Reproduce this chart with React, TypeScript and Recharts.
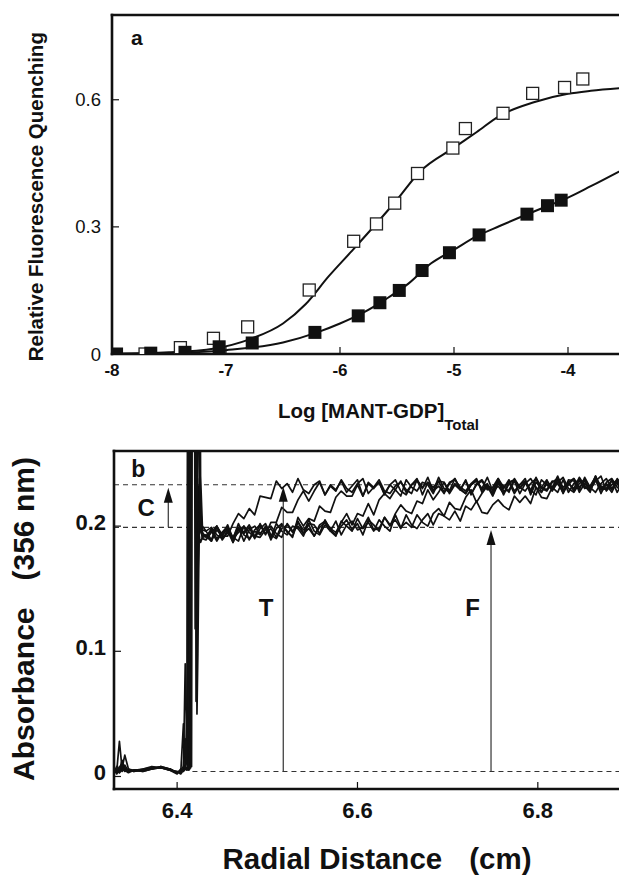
import {
  ComposedChart,
  Line,
  ReferenceDot,
  ReferenceLine,
  Scatter,
  XAxis,
  YAxis,
} from "recharts";

// ---- panel a: MANT-GDP titration ----
const logConcOpen = [-7.71, -7.40, -7.11, -6.81, -6.27, -5.88, -5.68, -5.52, -5.32, -5.01, -4.90, -4.57, -4.31, -4.03, -3.87];
const quenchOpen = [0.0, 0.015, 0.037, 0.064, 0.151, 0.266, 0.307, 0.356, 0.426, 0.486, 0.532, 0.568, 0.615, 0.629, 0.649];

const logConcFilled = [-7.96, -7.66, -7.36, -7.06, -6.77, -6.22, -5.84, -5.65, -5.48, -5.28, -5.04, -4.78, -4.36, -4.18, -4.06];
const quenchFilled = [0.0, 0.002, 0.004, 0.017, 0.026, 0.051, 0.09, 0.121, 0.15, 0.197, 0.239, 0.281, 0.33, 0.35, 0.363];

// fitted binding curves
const fitOpenX = [-8, -7.5, -7.1, -6.8, -6.5, -6.3, -6.1, -5.9, -5.7, -5.5, -5.3, -5.0, -4.8, -4.6, -4.3, -4.0, -3.8, -3.5];
const fitOpenY = [0.001, 0.004, 0.013, 0.034, 0.072, 0.118, 0.183, 0.242, 0.302, 0.364, 0.43, 0.487, 0.524, 0.562, 0.594, 0.614, 0.621, 0.628];
const fitFilledX = [-8, -7.5, -7.0, -6.5, -6.2, -6.0, -5.8, -5.6, -5.4, -5.2, -5.0, -4.8, -4.6, -4.4, -4.2, -4.0, -3.8, -3.5];
const fitFilledY = [0.0, 0.002, 0.009, 0.027, 0.051, 0.072, 0.097, 0.129, 0.166, 0.214, 0.246, 0.278, 0.302, 0.325, 0.347, 0.369, 0.396, 0.438];

const logTicks = [-8, -7, -6, -5, -4];
const quenchTicks = [0, 0.3, 0.6];

// ---- panel b: absorbance scans, values in mAU ----
const meniscusR = [
  6.330, 6.333, 6.336, 6.339, 6.342, 6.346, 6.352, 6.362, 6.372, 6.382,
  6.392, 6.400, 6.404, 6.407, 6.409, 6.411, 6.412, 6.413, 6.414, 6.415,
  6.416, 6.417, 6.418, 6.419, 6.420, 6.421, 6.422, 6.423, 6.424, 6.425,
  6.426, 6.428,
];
const plateauR = [
  6.432, 6.438, 6.444, 6.450, 6.456, 6.462, 6.468, 6.474, 6.480, 6.486,
  6.492, 6.498, 6.504, 6.510, 6.516, 6.522, 6.528, 6.534, 6.540, 6.546,
  6.552, 6.558, 6.564, 6.570, 6.576, 6.582, 6.588, 6.594, 6.600, 6.606,
  6.612, 6.618, 6.624, 6.630, 6.636, 6.642, 6.648, 6.654, 6.660, 6.666,
  6.672, 6.678, 6.684, 6.690, 6.696, 6.702, 6.708, 6.714, 6.720, 6.726,
  6.732, 6.738, 6.744, 6.750, 6.756, 6.762, 6.768, 6.774, 6.780, 6.786,
  6.792, 6.798, 6.804, 6.810, 6.816, 6.822, 6.828, 6.834, 6.840, 6.846,
  6.852, 6.858, 6.864, 6.870, 6.876, 6.882, 6.888, 6.894, 6.900,
];

// first 32 values cover meniscusR, the rest plateauR; 420 runs off scale
const scan1 = [
  5, 3, 8, 4, 6, 5, 4, 5, 6, 8, 6, 3, 4, 6, 9, 12, 420, 420, 420, 420,
  420, 420, 420, 420, 420, 420, 420, 420, 420, 252, 214, 197,
  196, 189, 200, 192, 192, 202, 210, 206, 214, 209,
  224, 223, 222, 236, 230, 234, 227, 238, 229, 226,
  233, 236, 225, 232, 228, 237, 230, 227, 234, 238,
  226, 231, 235, 225, 233, 229, 236, 227, 233, 238,
  225, 235, 231, 236, 227, 234, 238, 229, 226, 233,
  236, 230, 239, 228, 232, 226, 235, 237, 231, 228,
  234, 238, 227, 234, 230, 237, 226, 235, 238, 231,
  236, 228, 239, 232, 229, 236, 234, 227, 237,
];
const scan2 = [
  3, 8, 5, 13, 6, 4, 5, 5, 7, 7, 5, 4, 3, 42, 8, 6, 10, 420, 420, 420,
  420, 420, 420, 420, 420, 60, 110, 180, 232, 206, 196, 192,
  193, 188, 200, 193, 197, 190, 202, 193, 190, 197,
  201, 193, 203, 203, 215, 211, 211, 221, 228, 220,
  228, 235, 225, 233, 229, 236, 227, 232, 237, 224,
  234, 230, 235, 226, 233, 237, 228, 225, 233, 236,
  230, 239, 228, 232, 226, 235, 237, 231, 228, 234,
  238, 227, 233, 229, 236, 225, 234, 237, 230, 235,
  227, 238, 231, 229, 236, 234, 227, 237, 236, 229,
  239, 231, 227, 234, 238, 230, 235, 226, 237,
];
const scan3 = [
  7, 4, 28, 6, 9, 4, 5, 4, 6, 7, 5, 2, 6, 5, 90, 20, 8, 12, 420, 420,
  420, 420, 420, 420, 420, 420, 420, 420, 262, 226, 205, 194,
  192, 196, 188, 195, 198, 191, 188, 200, 195, 191,
  202, 194, 198, 191, 201, 196, 191, 207, 200, 206,
  204, 216, 212, 211, 223, 228, 224, 224, 233, 224,
  235, 231, 237, 228, 226, 232, 235, 229, 226, 237,
  231, 235, 228, 239, 230, 227, 234, 229, 237, 226,
  233, 236, 229, 231, 238, 228, 229, 236, 226, 234,
  238, 231, 227, 236, 231, 240, 229, 233, 238, 227,
  234, 230, 237, 226, 235, 238, 231, 228, 239,
];
const scan4 = [
  4, 6, 3, 7, 17, 6, 5, 5, 6, 8, 6, 3, 5, 4, 6, 5, 7, 6, 9, 420,
  420, 420, 420, 420, 420, 420, 420, 150, 198, 238, 210, 195,
  191, 198, 190, 195, 200, 187, 198, 194, 199, 190,
  198, 202, 193, 190, 198, 201, 195, 204, 194, 198,
  192, 201, 204, 198, 195, 203, 210, 201, 210, 208,
  218, 209, 221, 226, 222, 229, 224, 237, 231, 228,
  235, 233, 226, 236, 235, 228, 238, 230, 226, 233,
  237, 229, 234, 225, 236, 232, 227, 238, 231, 235,
  228, 239, 230, 228, 235, 238, 227, 234, 230, 239,
  232, 229, 236, 240, 228, 233, 237, 227, 235,
];
const scan5 = [
  6, 2, 5, 9, 4, 6, 4, 6, 7, 7, 5, 4, 2, 5, 7, 24, 6, 5, 8, 7,
  420, 420, 420, 420, 420, 420, 420, 420, 420, 420, 240, 200,
  196, 199, 193, 190, 196, 187, 199, 195, 201, 192,
  191, 197, 200, 194, 191, 202, 196, 200, 194, 205,
  196, 193, 201, 196, 204, 193, 201, 204, 197, 199,
  207, 197, 198, 207, 200, 210, 217, 212, 210, 220,
  218, 229, 221, 227, 235, 226, 233, 229, 236, 225,
  234, 237, 230, 227, 238, 231, 235, 226, 233, 236,
  229, 225, 237, 233, 229, 239, 231, 235, 228, 237,
  232, 227, 240, 230, 234, 229, 238, 231, 227,
];
const scan6 = [
  4, 5, 3, 6, 5, 3, 5, 4, 6, 7, 6, 3, 4, 5, 6, 55, 14, 7, 6, 9,
  8, 420, 420, 420, 420, 420, 50, 98, 168, 214, 200, 190,
  189, 195, 200, 189, 195, 191, 199, 188, 197, 200,
  194, 199, 191, 202, 196, 193, 200, 198, 192, 202,
  201, 194, 205, 197, 193, 200, 205, 197, 202, 193,
  205, 201, 196, 207, 201, 205, 198, 209, 201, 198,
  205, 210, 201, 210, 208, 219, 214, 213, 223, 229,
  219, 226, 232, 224, 234, 230, 237, 228, 233, 238,
  225, 235, 231, 237, 228, 235, 239, 230, 227, 234,
  237, 231, 240, 229, 233, 227, 236, 238, 232,
];
const scan7 = [
  5, 4, 6, 5, 7, 4, 5, 6, 8, 7, 6, 3, 5, 8, 30, 9, 420, 420, 420, 420,
  420, 420, 420, 420, 118, 196, 240, 206, 195, 190, 187, 191,
  192, 188, 197, 192, 201, 190, 195, 200, 189, 196,
  193, 200, 189, 198, 202, 195, 192, 203, 197, 201,
  192, 199, 203, 196, 192, 204, 200, 196, 206, 198,
  203, 196, 205, 200, 196, 209, 199, 203, 199, 209,
  203, 200, 210, 214, 208, 205, 212, 204, 216, 213,
  220, 211, 210, 217, 221, 216, 213, 224, 219, 224,
  218, 231, 223, 222, 231, 227, 237, 227, 234, 237,
  230, 232, 239, 229, 230, 237, 227, 235, 239,
];

const radialTicks = [6.4, 6.6, 6.8];
const absTicks = [0, 0.1, 0.2];
// boundary levels (AU): baseline, free and total plateau
const baseLevel = 0.004;
const freeLevel = 0.199;
const totalLevel = 0.233;

const ink = "#111";
const font = '"Liberation Sans", Arial, Helvetica, sans-serif';

const openPts = logConcOpen.map((x, i) => ({ x, y: quenchOpen[i] }));
const filledPts = logConcFilled.map((x, i) => ({ x, y: quenchFilled[i] }));
const openFit = fitOpenX.map((x, i) => ({ x, y: fitOpenY[i] }));
const filledFit = fitFilledX.map((x, i) => ({ x, y: fitFilledY[i] }));

const radius = [...meniscusR, ...plateauR];
const scanData = [scan1, scan2, scan3, scan4, scan5, scan6, scan7].map((s) =>
  radius.map((r, i) => ({ r, a: s[i] / 1000 })),
);

const axisLine = { stroke: ink, strokeWidth: 2.6, strokeLinecap: "square" as const };
const tickLine = { stroke: ink, strokeWidth: 1.2 };

function OpenSquare(props: any) {
  const { cx, cy } = props;
  return <rect x={cx - 6} y={cy - 6} width={12} height={12} fill="#fff" stroke="#222" strokeWidth={1.3} />;
}

function FilledSquare(props: any) {
  const { cx, cy } = props;
  return <rect x={cx - 6.5} y={cy - 6.5} width={13} height={13} fill={ink} />;
}

function UpArrow(props: any) {
  const { x1, y1, y2 } = props;
  const tip = Math.min(y1, y2);
  const tail = Math.max(y1, y2);
  const head = 15;
  return (
    <g>
      <line x1={x1} y1={tail} x2={x1} y2={tip + head - 1} stroke="#333" strokeWidth={1.2} />
      <path d={`M${x1},${tip} L${x1 - 4.5},${tip + head} L${x1 + 4.5},${tip + head} Z`} fill={ink} />
    </g>
  );
}

const fmtTick = (v: number) => (v === 0 ? "0" : v.toFixed(1));

function TitrationPanel() {
  return (
    <ComposedChart width={630} height={440} margin={{ top: 15, right: 5, bottom: 0, left: 0 }}>
      <XAxis
        dataKey="x"
        type="number"
        domain={[-8, -3.5]}
        ticks={logTicks}
        allowDataOverflow
        height={86}
        tickSize={-7}
        tickMargin={17}
        axisLine={axisLine}
        tickLine={tickLine}
        tick={{ fontSize: 17, fontWeight: "bold", fill: ink }}
      />
      <XAxis
        xAxisId="top"
        orientation="top"
        mirror
        type="number"
        domain={[-8, -3.5]}
        ticks={logTicks}
        allowDataOverflow
        tickSize={7}
        tick={false}
        axisLine={axisLine}
        tickLine={tickLine}
      />
      <YAxis
        dataKey="y"
        type="number"
        domain={[0, 0.8]}
        ticks={quenchTicks}
        allowDataOverflow
        width={112}
        tickSize={-7}
        tickMargin={18}
        tickFormatter={fmtTick}
        axisLine={axisLine}
        tickLine={tickLine}
        tick={{ fontSize: 18.5, fill: ink }}
      />
      <YAxis
        yAxisId="right"
        orientation="right"
        mirror
        type="number"
        domain={[0, 0.8]}
        ticks={quenchTicks}
        allowDataOverflow
        tickSize={7}
        tick={false}
        axisLine={axisLine}
        tickLine={tickLine}
      />
      <Line data={openFit} dataKey="y" type="monotone" stroke={ink} strokeWidth={2} dot={false} isAnimationActive={false} />
      <Line data={filledFit} dataKey="y" type="monotone" stroke={ink} strokeWidth={2} dot={false} isAnimationActive={false} />
      <Scatter data={openPts} dataKey="y" shape={OpenSquare} isAnimationActive={false} />
      <Scatter data={filledPts} dataKey="y" shape={FilledSquare} isAnimationActive={false} />
      <ReferenceDot
        x={-7.783}
        y={0.747}
        r={0}
        fill="none"
        stroke="none"
        label={{ value: "a", position: "center", fontSize: 21, fontWeight: "bold", fill: ink }}
      />
    </ComposedChart>
  );
}

function SedimentationPanel() {
  const dash = { stroke: "#333", strokeWidth: 1.1, strokeDasharray: "5 4" };
  const letter = { position: "center" as const, fontSize: 24, fontWeight: "bold", fill: ink };
  return (
    <ComposedChart width={640} height={447} margin={{ top: 21, right: 12, bottom: 0, left: 0 }}>
      <XAxis
        dataKey="r"
        type="number"
        domain={[6.33, 6.9]}
        ticks={radialTicks}
        allowDataOverflow
        height={88}
        tickSize={-7}
        tickMargin={20}
        tickFormatter={(v: number) => v.toFixed(1)}
        axisLine={axisLine}
        tickLine={tickLine}
        tick={{ fontSize: 22, fontWeight: "bold", fill: ink }}
      />
      <XAxis
        xAxisId="top"
        orientation="top"
        mirror
        type="number"
        domain={[6.33, 6.9]}
        ticks={radialTicks}
        allowDataOverflow
        tickSize={7}
        tick={false}
        axisLine={axisLine}
        tickLine={tickLine}
      />
      <YAxis
        type="number"
        domain={[-0.01, 0.26]}
        ticks={absTicks}
        allowDataOverflow
        width={114}
        tickSize={-7}
        tickMargin={15}
        tickFormatter={fmtTick}
        axisLine={axisLine}
        tickLine={tickLine}
        tick={{ fontSize: 22, fontWeight: "bold", fill: ink, dy: -4 }}
      />
      <YAxis
        yAxisId="right"
        orientation="right"
        mirror
        type="number"
        domain={[-0.01, 0.26]}
        ticks={absTicks}
        allowDataOverflow
        tickSize={7}
        tick={false}
        axisLine={axisLine}
        tickLine={tickLine}
      />
      <ReferenceLine y={totalLevel} {...dash} />
      <ReferenceLine y={freeLevel} {...dash} />
      <ReferenceLine segment={[{ x: 6.417, y: baseLevel }, { x: 6.9, y: baseLevel }]} {...dash} />
      {scanData.map((d, k) => (
        <Line
          key={k}
          data={d}
          dataKey="a"
          type="linear"
          stroke={ink}
          strokeWidth={1.7}
          strokeLinejoin="round"
          dot={false}
          isAnimationActive={false}
        />
      ))}
      <ReferenceLine segment={[{ x: 6.3902, y: freeLevel }, { x: 6.3902, y: 0.2307 }]} shape={UpArrow} />
      <ReferenceLine segment={[{ x: 6.5177, y: baseLevel }, { x: 6.5177, y: 0.2315 }]} shape={UpArrow} />
      <ReferenceLine segment={[{ x: 6.7481, y: baseLevel }, { x: 6.7481, y: 0.1969 }]} shape={UpArrow} />
      <ReferenceDot x={6.357} y={0.2459} r={0} fill="none" stroke="none" label={{ value: "b", ...letter, fontSize: 23 }} />
      <ReferenceDot x={6.3657} y={0.2151} r={0} fill="none" stroke="none" label={{ value: "C", ...letter }} />
      <ReferenceDot x={6.4986} y={0.1354} r={0} fill="none" stroke="none" label={{ value: "T", ...letter }} />
      <ReferenceDot x={6.7276} y={0.1354} r={0} fill="none" stroke="none" label={{ value: "F", ...letter }} />
    </ComposedChart>
  );
}

export default function App() {
  return (
    <div
      style={{
        position: "absolute",
        left: 0,
        top: 0,
        width: 619,
        height: 877,
        overflow: "hidden",
        background: "#fff",
        fontFamily: font,
        color: ink,
      }}
    >
      <div style={{ position: "absolute", left: 0, top: 0 }}>
        <TitrationPanel />
      </div>
      <div style={{ position: "absolute", left: 0, top: 430 }}>
        <SedimentationPanel />
      </div>
      <svg
        width={619}
        height={877}
        style={{ position: "absolute", left: 0, top: 0, pointerEvents: "none" }}
        fontFamily={font}
        fontWeight="bold"
        fill={ink}
      >
        <text transform="translate(43.3,196.7) rotate(-90)" textAnchor="middle" fontSize={20.5}>
          Relative Fluorescence Quenching
        </text>
        <text x={278} y={418.3} fontSize={20.5}>
          Log [MANT-GDP]
          <tspan fontSize={15} dy={11.5}>Total</tspan>
        </text>
        <text transform="translate(34,619) rotate(-90)" textAnchor="middle" fontSize={30}>
          Absorbance<tspan dx={27}>(356 nm)</tspan>
        </text>
        <text x={377} y={869} textAnchor="middle" fontSize={29.5}>
          Radial Distance<tspan dx={27}>(cm)</tspan>
        </text>
      </svg>
    </div>
  );
}
